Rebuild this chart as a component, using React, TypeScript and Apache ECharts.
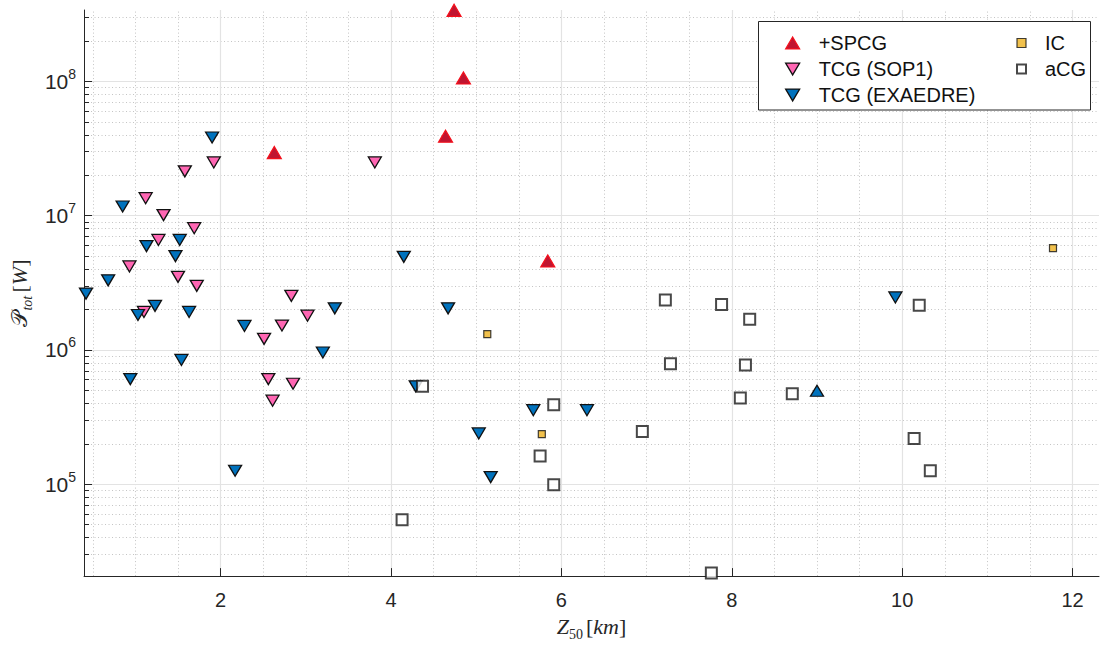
import React, { useEffect, useRef } from 'react';
import * as echarts from 'echarts';

// +SPCG (red up triangles)
const spcgX = [4.74, 4.85, 4.64, 2.63, 5.84];
const spcgY = [3.38e8, 1.06e8, 3.9e7, 2.95e7, 4.6e6];

// TCG (SOP1) pink down triangles
const sop1X = [1.12, 1.33, 1.69, 1.27, 0.93, 1.5, 1.72, 1.1, 2.83, 3.02, 2.72, 2.51, 2.56, 2.85, 2.61, 1.92, 1.58, 3.81];
const sop1Y = [1.35e7, 1.01e7, 8.07e6, 6.6e6, 4.19e6, 3.5e6, 3.0e6, 1.92e6, 2.53e6, 1.8e6, 1.52e6, 1.21e6, 6.07e5, 5.6e5, 4.19e5, 2.49e7, 2.14e7, 2.49e7];

// TCG (EXAEDRE) blue down triangles
const exaX = [0.42, 0.68, 0.85, 1.13, 1.03, 1.23, 1.52, 1.47, 1.63, 1.54, 0.94, 1.9, 2.28, 3.2, 3.34, 2.17, 4.15, 4.67, 4.29, 5.67, 6.3, 5.03, 5.17, 9.92];
const exaY = [2.63e6, 3.3e6, 1.17e7, 5.93e6, 1.82e6, 2.13e6, 6.6e6, 5.0e6, 1.92e6, 8.43e5, 6.07e5, 3.82e7, 1.51e6, 9.57e5, 2.04e6, 1.26e5, 4.94e6, 2.04e6, 5.36e5, 3.56e5, 3.56e5, 2.39e5, 1.13e5, 2.46e6];

// blue up triangle (not in legend)
const exaUpX = [9.0];
const exaUpY = [4.97e5];

// IC (orange small squares)
const icX = [5.13, 5.77, 11.77];
const icY = [1.31e6, 2.36e5, 5.74e6];

// aCG (open squares)
const acgX = [4.37, 5.91, 5.75, 5.91, 4.13, 6.95, 7.22, 7.28, 7.88, 8.21, 8.16, 8.1, 7.76, 8.71, 10.2, 10.14, 10.33];
const acgY = [5.36e5, 3.91e5, 1.62e5, 0.99e5, 5.45e4, 2.47e5, 2.35e6, 7.88e5, 2.18e6, 1.69e6, 7.74e5, 4.39e5, 2.18e4, 4.72e5, 2.15e6, 2.19e5, 1.26e5];

// axes
const xMin = 0.397;
const xMax = 12.31;
const yMin = 2.07e4;
const yMax = 3.4e8;
const xMajor = [2, 4, 6, 8, 10, 12];
const xMinor = [0.5, 1, 1.5, 2.5, 3, 3.5, 4.5, 5, 5.5, 6.5, 7, 7.5, 8.5, 9, 9.5, 10.5, 11, 11.5];
const yMajor = [1e5, 1e6, 1e7, 1e8];
const yMinor = [3e4, 4e4, 5e4, 6e4, 7e4, 8e4, 9e4, 2e5, 3e5, 4e5, 5e5, 6e5, 7e5, 8e5, 9e5, 2e6, 3e6, 4e6, 5e6, 6e6, 7e6, 8e6, 9e6, 2e7, 3e7, 4e7, 5e7, 6e7, 7e7, 8e7, 9e7, 2e8, 3e8];

const zip = (xs: number[], ys: number[]) => xs.map((x, i) => [x, ys[i]]);

const AX = '#262626';
const SANS = 'Liberation Sans, Arial, Helvetica, sans-serif';
const SERIF = 'Liberation Serif, DejaVu Serif, serif';
const UP = 'path://M1,0L2,1.7L0,1.7Z';
const DOWN = 'path://M0,0L2,0L1,1.7Z';

export default function App() {
  const ref = useRef<HTMLDivElement>(null);
  useEffect(() => {
    document.body.style.margin = '0';
    if (!ref.current) return;
    const chart = echarts.init(ref.current, undefined, { renderer: 'svg' });

    const minorLine = { color: '#c4c4c4', width: 1, type: [1, 2.5] as any };
    const majorLine = { color: '#e3e3e3', width: 1.2, type: 'solid' as any };

    const gridMarks = {
      silent: true,
      symbol: 'none',
      animation: false,
      z: 0,
      label: { show: false },
      emphasis: { disabled: true },
      data: [
        ...xMinor.map((v) => ({ xAxis: v, lineStyle: minorLine })),
        ...yMinor.map((v) => ({ yAxis: v, lineStyle: minorLine })),
        ...xMajor.map((v) => ({ xAxis: v, lineStyle: majorLine })),
        ...yMajor.map((v) => ({ yAxis: v, lineStyle: majorLine })),
      ],
    };

    const tri = (name: string, data: number[][], fill: string, border: string, down: boolean, size: number[], bw: number) => ({
      type: 'scatter',
      name,
      data,
      symbol: down ? DOWN : UP,
      symbolSize: size,
      symbolKeepAspect: false,
      z: 5,
      itemStyle: { color: fill, borderColor: border, borderWidth: bw, opacity: 1 },
      emphasis: { disabled: true },
    });

    const legendText = { fontSize: 20, fontFamily: SANS, color: '#111', lineHeight: 20, padding: [0, 0, 0, 14] };

    const option: any = {
      animation: false,
      backgroundColor: '#ffffff',
      grid: { left: 84, right: 1, top: 10, bottom: 67, containLabel: false },
      xAxis: [
        {
          type: 'value',
          min: xMin,
          max: xMax,
          axisLine: { show: true, onZero: false, lineStyle: { color: AX, width: 1 } },
          axisTick: { show: true, inside: true, length: 8, customValues: xMajor, lineStyle: { color: AX } },
          axisLabel: { customValues: xMajor, margin: 14, fontSize: 20, fontFamily: SANS, color: AX },
          splitLine: { show: false },
          name: '{z|Z}{sub|50} {b|[}{k|km}{b|]}',
          nameLocation: 'middle',
          nameGap: 42,
          nameTextStyle: {
            color: AX,
            fontFamily: SERIF,
            rich: {
              z: { fontFamily: SERIF, fontStyle: 'italic', fontSize: 22, color: AX, verticalAlign: 'bottom', lineHeight: 22, padding: [0, 0, 4, 0] },
              sub: { fontFamily: SERIF, fontSize: 14, color: AX, verticalAlign: 'bottom', lineHeight: 14 },
              b: { fontFamily: SERIF, fontSize: 22, color: AX, verticalAlign: 'bottom', lineHeight: 22, padding: [0, 0, 4, 0] },
              k: { fontFamily: SERIF, fontStyle: 'italic', fontSize: 22, color: AX, verticalAlign: 'bottom', lineHeight: 22, padding: [0, 0, 4, 0] },
            },
          },
        },
      ],
      yAxis: [
        {
          type: 'log',
          logBase: 10,
          min: yMin,
          max: yMax,
          position: 'left',
          axisLine: { show: true, onZero: false, lineStyle: { color: AX, width: 1 } },
          axisTick: { show: true, inside: true, length: 8, customValues: yMajor, lineStyle: { color: AX } },
          axisLabel: {
            customValues: yMajor,
            margin: 8,
            formatter: (v: number) => {
              const e = Math.round(Math.log10(v));
              return '{n|10}{s|' + e + '}';
            },
            rich: {
              n: { fontFamily: SANS, fontSize: 21, color: AX, verticalAlign: 'bottom', lineHeight: 21 },
              s: { fontFamily: SANS, fontSize: 14, color: AX, verticalAlign: 'bottom', lineHeight: 14, padding: [0, 0, 11, 0] },
            },
          },
          splitLine: { show: false },
          name: '{p|𝒫}{sub|tot} {b|[}{w|W}{b|]}',
          nameLocation: 'middle',
          nameRotate: 90,
          nameGap: 46,
          nameTextStyle: {
            color: AX,
            rich: {
              p: { fontFamily: 'DejaVu Serif, DejaVu Sans, Noto Sans, serif', fontSize: 22, color: AX, verticalAlign: 'bottom', lineHeight: 24, padding: [0, 0, 4, 0] },
              sub: { fontFamily: SERIF, fontStyle: 'italic', fontSize: 14, color: AX, verticalAlign: 'bottom', lineHeight: 14 },
              b: { fontFamily: SERIF, fontSize: 22, color: AX, verticalAlign: 'bottom', lineHeight: 22, padding: [0, 0, 4, 0] },
              w: { fontFamily: SERIF, fontStyle: 'italic', fontSize: 22, color: AX, verticalAlign: 'bottom', lineHeight: 22, padding: [0, 0, 4, 0] },
            },
          },
        },
        {
          type: 'log',
          logBase: 10,
          min: yMin,
          max: yMax,
          position: 'left',
          axisLine: { show: false },
          axisTick: { show: true, inside: true, length: 5, customValues: yMinor, lineStyle: { color: AX } },
          axisLabel: { show: false },
          splitLine: { show: false },
        },
      ],
      legend: [
        {
          left: 780,
          top: 28,
          orient: 'vertical',
          itemWidth: 14,
          itemHeight: 13,
          itemGap: 6,
          selectedMode: false,
          z: 10,
          data: ['+SPCG', 'TCG (SOP1)', 'TCG (EXAEDRE)'],
          itemStyle: { borderWidth: 'inherit', borderColor: 'inherit' },
          textStyle: legendText,
        },
        {
          left: 1011,
          top: 28,
          orient: 'vertical',
          itemWidth: 9,
          itemHeight: 9,
          itemGap: 6,
          selectedMode: false,
          z: 10,
          data: ['IC', 'aCG'],
          itemStyle: { borderWidth: 'inherit', borderColor: 'inherit' },
          textStyle: legendText,
        },
      ],
      graphic: [
        {
          type: 'rect',
          z: 8,
          shape: { x: 758.5, y: 21.5, width: 332, height: 88.5 },
          style: { fill: '#ffffff', stroke: AX, lineWidth: 1 },
        },
      ],
      series: [
        {
          type: 'scatter',
          name: 'grid',
          data: [],
          z: 0,
          markLine: gridMarks,
        },
        tri('+SPCG', zip(spcgX, spcgY), '#c01530', '#f5101c', false, [14, 12], 1.2),
        tri('TCG (SOP1)', zip(sop1X, sop1Y), '#ff66b3', '#111111', true, [13, 11], 1.3),
        tri('TCG (EXAEDRE)', zip(exaX, exaY), '#0072bd', '#111111', true, [13, 11], 1.3),
        tri('+SPCG (EXAEDRE)', zip(exaUpX, exaUpY), '#0072bd', '#111111', false, [13, 11], 1.3),
        {
          type: 'scatter',
          name: 'IC',
          data: zip(icX, icY),
          symbol: 'rect',
          symbolSize: 7,
          z: 5,
          itemStyle: { color: '#edb120', borderColor: '#111111', borderWidth: 1.2 },
          emphasis: { disabled: true },
        },
        {
          type: 'scatter',
          name: 'aCG',
          data: zip(acgX, acgY),
          symbol: 'rect',
          symbolSize: 11,
          z: 5,
          itemStyle: { color: '#ffffff', borderColor: '#1a1a1a', borderWidth: 2 },
          emphasis: { disabled: true },
        },
      ],
    };
    chart.setOption(option);
    return () => chart.dispose();
  }, []);
  return <div ref={ref} style={{ width: 1100, height: 646 }} />;
}
